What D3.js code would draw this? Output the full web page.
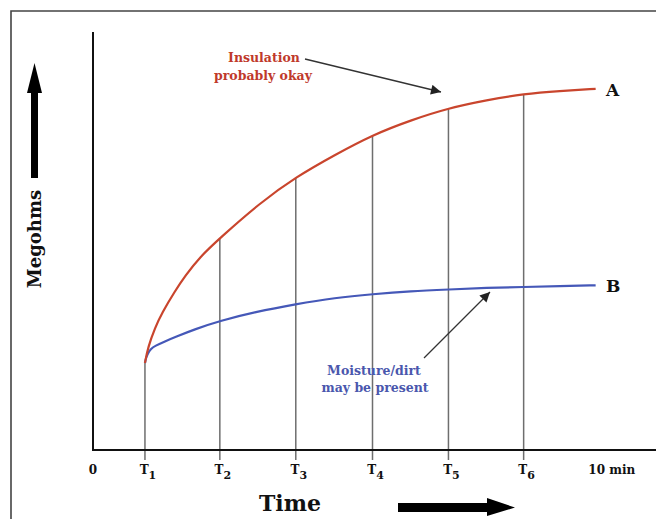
<!DOCTYPE html>
<html><head><meta charset="utf-8">
<script src="https://cdn.jsdelivr.net/npm/d3@7"></script>
<style>html,body{margin:0;padding:0;background:#fff}svg{display:block}</style>
</head><body>
<svg id="c" width="656" height="519"></svg>
<script>
// Data (time in arbitrary units, resistance in relative megohms)
const tickTimes  = [0, 0.684, 1.67, 2.67, 3.68, 4.68, 5.67, 6.83];
const tickLabels = ["0", "T1", "T2", "T3", "T4", "T5", "T6", "10 min"];
const markerTimes = [0.684, 1.67, 2.67, 3.68, 4.68, 5.67];
const timeA = [0.684, 0.724, 0.816, 0.908, 1.079, 1.211, 1.408, 1.671, 2.197, 2.671, 3.184, 3.684, 4.184, 4.684, 5.184, 5.671, 6.145, 6.618];
const valA  = [20.8, 24.6, 29.2, 32.8, 38.0, 41.6, 46.2, 50.7, 59.1, 65.3, 70.6, 75.4, 78.9, 81.8, 83.7, 85.2, 85.9, 86.4];
const timeB = [0.684, 0.697, 0.724, 0.763, 0.816, 0.947, 1.079, 1.342, 1.671, 2.132, 2.671, 3.184, 3.684, 4.184, 4.684, 5.184, 5.671, 6.145, 6.618];
const valB  = [20.8, 22.0, 23.2, 24.2, 24.9, 26.0, 27.0, 28.9, 30.9, 33.0, 34.9, 36.4, 37.3, 38.0, 38.4, 38.8, 39.0, 39.2, 39.4];
const seriesNames = ["A", "B"];

const svg = d3.select("#c");
const serif = "'DejaVu Serif', 'Liberation Serif', serif";
const x = d3.scaleLinear().domain([0, 7.36]).range([93, 652]);
const y = d3.scaleLinear().domain([0, 100]).range([450, 32]);

// outer frame
svg.append("path").attr("d", "M11,519 L11,11 L656,11")
  .attr("fill", "none").attr("stroke", "#444").attr("stroke-width", 1.6);

svg.append("defs").append("marker").attr("id", "ah")
  .attr("viewBox", "0 0 10 10").attr("refX", 10).attr("refY", 5)
  .attr("markerWidth", 12).attr("markerHeight", 10).attr("markerUnits", "userSpaceOnUse")
  .attr("orient", "auto")
  .append("path").attr("d", "M0,0 L10,5 L0,10 Z").attr("fill", "#222");

const curve = d3.curveBasis;
const lineA = d3.line().x((d, i) => x(timeA[i])).y(d => y(d)).curve(curve);
const lineB = d3.line().x((d, i) => x(timeB[i])).y(d => y(d)).curve(curve);

const gMarkers = svg.append("g");
const pathA = svg.append("path").datum(valA).attr("d", lineA).attr("fill", "none")
  .attr("stroke", "#c9452d").attr("stroke-width", 2.2);
const pathB = svg.append("path").datum(valB).attr("d", lineB).attr("fill", "none")
  .attr("stroke", "#4558b8").attr("stroke-width", 2.2);
pathA.raise();

const yOnA = t => {
  const p = pathA.node(); const L = p.getTotalLength();
  let lo = 0, hi = L;
  for (let k = 0; k < 40; k++) { const m = (lo + hi) / 2; if (p.getPointAtLength(m).x < x(t)) lo = m; else hi = m; }
  return p.getPointAtLength(lo).y;
};
gMarkers.selectAll("line").data(markerTimes).join("line")
  .attr("x1", d => x(d)).attr("x2", d => x(d))
  .attr("y1", d => yOnA(d)).attr("y2", 460)
  .attr("stroke", "#6e6e6e").attr("stroke-width", 1.5);

// axes
svg.append("line").attr("x1", 93).attr("x2", 93).attr("y1", 32).attr("y2", 451)
  .attr("stroke", "#111").attr("stroke-width", 2);
svg.append("line").attr("x1", 92).attr("x2", 656).attr("y1", y(0)).attr("y2", y(0))
  .attr("stroke", "#111").attr("stroke-width", 2);

// tick labels
const tl = svg.append("g").attr("font-family", serif).attr("font-weight", "bold")
  .attr("font-size", 12).attr("fill", "#111");
tickLabels.forEach((lab, i) => {
  const t = tl.append("text").attr("y", 474).attr("text-anchor", "middle");
  if (/^T\d$/.test(lab)) {
    t.attr("x", x(tickTimes[i]) + 3);
    t.append("tspan").text("T");
    t.append("tspan").attr("dy", 5).attr("font-size", 11).text(lab.slice(1));
  } else {
    t.attr("x", x(tickTimes[i])).text(lab);
  }
});

// series labels
const ends = [valA[valA.length - 1], valB[valB.length - 1]];
svg.selectAll("text.sl").data(seriesNames).join("text").attr("class", "sl")
  .attr("x", 606).attr("y", (d, i) => y(ends[i]) + 7)
  .attr("font-family", serif).attr("font-weight", "bold").attr("font-size", 17).attr("fill", "#111")
  .text(d => d);

// annotations
const ann1 = svg.append("text").attr("font-family", serif).attr("font-weight", "bold")
  .attr("font-size", 12.5).attr("fill", "#c0392b").attr("text-anchor", "middle");
ann1.append("tspan").attr("x", 264).attr("y", 62).text("Insulation");
ann1.append("tspan").attr("x", 263).attr("y", 80).text("probably okay");
svg.append("line").attr("x1", 305).attr("y1", 59).attr("x2", 441).attr("y2", 92)
  .attr("stroke", "#333").attr("stroke-width", 1.3).attr("marker-end", "url(#ah)");

const ann2 = svg.append("text").attr("font-family", serif).attr("font-weight", "bold")
  .attr("font-size", 12.5).attr("fill", "#4a57ad").attr("text-anchor", "middle");
ann2.append("tspan").attr("x", 374).attr("y", 375).text("Moisture/dirt");
ann2.append("tspan").attr("x", 375).attr("y", 392).text("may be present");
svg.append("line").attr("x1", 424).attr("y1", 358).attr("x2", 490).attr("y2", 292)
  .attr("stroke", "#333").attr("stroke-width", 1.3).attr("marker-end", "url(#ah)");

// axis titles with big arrows
svg.append("text").attr("transform", "translate(41,239) rotate(-90)")
  .attr("text-anchor", "middle").attr("font-family", serif).attr("font-weight", "bold")
  .attr("font-size", 18).attr("fill", "#111").text("Megohms");
svg.append("path").attr("d", "M31,178 L31,93 L27,93 L34.5,63 L42,93 L38,93 L38,178 Z").attr("fill", "#000");

svg.append("text").attr("x", 290).attr("y", 511).attr("text-anchor", "middle")
  .attr("font-family", serif).attr("font-weight", "bold").attr("font-size", 22).attr("fill", "#111").text("Time");
svg.append("path").attr("d", "M398,503 L487,503 L487,498 L515,507.5 L487,516 L487,512 L398,512 Z").attr("fill", "#000");
</script>
</body></html>
